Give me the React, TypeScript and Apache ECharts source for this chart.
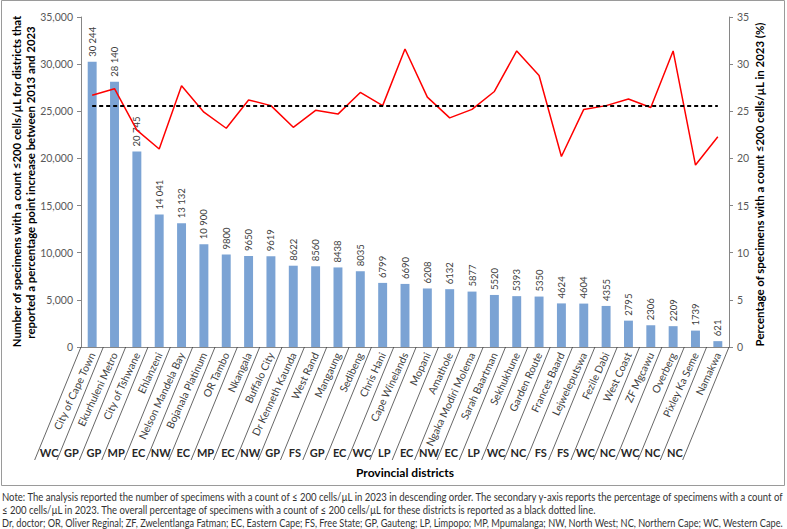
import React, { useEffect, useRef } from "react";
import * as echarts from "echarts";

// Districts in descending order of specimens with a count ≤200 cells/µL in 2023
const districts = [
  "City of Cape Town", "Ekurhuleni Metro", "City of Tshwane", "Ehlanzeni", "Nelson Mandela Bay",
  "Bojanala Platinum", "OR Tambo", "Nkangala", "Buffalo City", "Dr Kenneth Kaunda",
  "West Rand", "Mangaung", "Sedibeng", "Chris Hani", "Cape Winelands",
  "Mopani", "Amathole", "Ngaka Modiri Molema", "Sarah Baartman", "Sekhukhune",
  "Garden Route", "Frances Baard", "Lejweleputswa", "Fezile Dabi", "West Coast",
  "ZF Mgcawu", "Overberg", "Pixley Ka Seme", "Namakwa",
];

const provinces = [
  "WC", "GP", "GP", "MP", "EC", "NW", "EC", "MP", "EC", "NW",
  "GP", "FS", "GP", "EC", "WC", "LP", "EC", "NW", "EC", "LP",
  "WC", "NC", "FS", "FS", "WC", "NC", "WC", "NC", "NC",
];

const specimens = [
  30244, 28140, 20745, 14041, 13132, 10900, 9800, 9650, 9619, 8622,
  8560, 8438, 8035, 6799, 6690, 6208, 6132, 5877, 5520, 5393,
  5350, 4624, 4604, 4355, 2795, 2306, 2209, 1739, 621,
];

const percent2023 = [
  26.7, 27.4, 23.0, 21.0, 27.7, 24.9, 23.2, 26.2, 25.6, 23.3,
  25.1, 24.7, 27.0, 25.6, 31.6, 26.5, 24.3, 25.2, 27.1, 31.4,
  28.8, 20.2, 25.2, 25.6, 26.3, 25.4, 31.4, 19.3, 22.3,
];

const overallPercent = 25.6;

const countAxis = { min: 0, max: 35000, interval: 5000 };
const percentAxis = { min: 0, max: 35, interval: 5 };

const leftTitle = [
  "Number of specimens with a count ≤200 cells/µL for districts that",
  "reported a percentage point increase between 2013 and 2023",
];
const rightTitle = "Percentage of specimens with a count ≤200 cells/µL in 2023 (%)";
const xTitle = "Provincial districts";

const noteLines = [
  "Note: The analysis reported the number of specimens with a count of ≤ 200 cells/µL in 2023 in descending order. The secondary y-axis reports the percentage of specimens with a count of",
  "≤ 200 cells/µL in 2023. The overall percentage of specimens with a count of ≤ 200 cells/µL for these districts is reported as a black dotted line.",
  "Dr, doctor; OR, Oliver Reginal; ZF, Zwelentlanga Fatman; EC, Eastern Cape; FS, Free State; GP, Gauteng; LP, Limpopo; MP, Mpumalanga; NW, North West; NC, Northern Cape; WC, Western Cape.",
];

const FONT = "Lato, 'Noto Sans', sans-serif";
const W = 787;
const H = 529;

function formatCount(v: number): string {
  if (v >= 10000) {
    const s = String(v);
    return s.slice(0, s.length - 3) + " " + s.slice(s.length - 3);
  }
  return String(v);
}

function measure(text: string, font: string): number {
  const ctx = document.createElement("canvas").getContext("2d");
  if (!ctx) return text.length * 5;
  ctx.font = font;
  return ctx.measureText(text).width;
}

// Text squeezed horizontally by a factor (condensed look), optionally rotated to read upward
function squeezedText(
  text: string,
  font: string,
  x: number,
  y: number,
  scale: number,
  opts: { rotate?: boolean; align?: string; fill?: string } = {}
) {
  return {
    type: "text",
    x,
    y,
    rotation: opts.rotate ? Math.PI / 2 : 0,
    scaleX: scale,
    style: {
      text,
      font,
      fill: opts.fill || "#000",
      align: opts.align || "center",
      verticalAlign: "middle",
    },
    silent: true,
  };
}

export default function App() {
  const ref = useRef<HTMLDivElement>(null);

  useEffect(() => {
    if (!ref.current) return;
    const chart = echarts.init(ref.current, undefined, { renderer: "svg" });

    const noteFont = `11px ${FONT}`;
    const noteScale = 784 / measure(noteLines[0], noteFont);
    const lastScale = 783 / measure(noteLines[2], noteFont);
    const noteY = [497, 510, 523];
    const notes = noteLines.map((t, i) =>
      squeezedText(t, noteFont, 2, noteY[i], i === 2 ? lastScale : noteScale, {
        align: "left",
        fill: "#333",
      })
    );

    const titleFont = `bold 12px ${FONT}`;
    const titleScale = 333 / measure(leftTitle[0], titleFont);
    const titles = [
      squeezedText(leftTitle[0], titleFont, 16, 181.5, titleScale, { rotate: true }),
      squeezedText(leftTitle[1], titleFont, 30, 182.5, titleScale, { rotate: true }),
      squeezedText(rightTitle, titleFont, 759, 184.5, 325 / measure(rightTitle, titleFont), {
        rotate: true,
      }),
    ];

    const slope = 0.41; // horizontal run per pixel of drop for the slanted dividers
    const depth = 113;
    const provinceDrop = 105;
    const last = provinces.length - 1;

    const option: any = {
      animation: false,
      backgroundColor: "#fff",
      textStyle: { fontFamily: FONT },
      grid: { left: 81, right: 58, top: 17, bottom: 182, containLabel: false },
      xAxis: {
        type: "category",
        data: districts,
        axisLine: { show: true, lineStyle: { color: "#868686", width: 1 } },
        axisTick: { show: false },
        axisLabel: {
          interval: 0,
          rotate: 65,
          fontSize: 10.5,
          color: "#404040",
          fontFamily: FONT,
          margin: 6,
        },
      },
      yAxis: [
        {
          type: "value",
          ...countAxis,
          position: "left",
          axisLine: { show: true, lineStyle: { color: "#868686" } },
          axisTick: { show: true, length: 4, lineStyle: { color: "#868686" } },
          axisLabel: { fontSize: 10.5, color: "#595959", margin: 8, fontFamily: FONT },
          splitLine: { show: false },
        },
        {
          type: "value",
          ...percentAxis,
          position: "right",
          axisLine: { show: true, lineStyle: { color: "#868686" } },
          axisTick: { show: true, length: 4, lineStyle: { color: "#868686" } },
          axisLabel: { fontSize: 10.5, color: "#595959", margin: 8, fontFamily: FONT },
          splitLine: { show: false },
        },
      ],
      series: [
        {
          type: "bar",
          data: specimens,
          yAxisIndex: 0,
          barWidth: "40%",
          itemStyle: { color: "#7BA3D4" },
          label: {
            show: true,
            position: "top",
            rotate: 90,
            align: "left",
            verticalAlign: "middle",
            distance: 5,
            fontSize: 9.5,
            color: "#404040",
            fontFamily: FONT,
            formatter: (p: any) => formatCount(p.value),
          },
          z: 2,
        },
        {
          type: "line",
          data: percent2023,
          yAxisIndex: 1,
          symbol: "none",
          lineStyle: { color: "#FF0000", width: 1.5 },
          z: 4,
          markLine: {
            silent: true,
            symbol: "none",
            label: { show: false },
            lineStyle: { color: "#000", width: 2, type: [4, 3] },
            data: [
              [
                { coord: [0, overallPercent] },
                { coord: [districts.length - 1, overallPercent] },
              ],
            ],
          },
        },
        {
          type: "custom",
          xAxisIndex: 0,
          yAxisIndex: 0,
          silent: true,
          clip: false,
          z: 3,
          data: provinces.map((_, i) => [i, 0]),
          renderItem: (params: any, api: any) => {
            const i = api.value(0);
            const [cx, cy] = api.coord([i, 0]);
            const w = api.size([1, 0])[0];
            const children: any[] = [];
            const divider = (x: number) => ({
              type: "line",
              shape: { x1: x, y1: cy, x2: x - slope * depth, y2: cy + depth },
              style: { stroke: "#404040", lineWidth: 0.8 },
            });
            children.push(divider(cx - w / 2));
            if (params.dataIndex === last) children.push(divider(cx + w / 2));
            children.push({
              type: "text",
              x: cx - slope * provinceDrop,
              y: cy + provinceDrop,
              style: {
                text: provinces[i],
                font: `bold 11px ${FONT}`,
                fill: "#262626",
                align: "center",
                verticalAlign: "middle",
              },
            });
            return { type: "group", children };
          },
        },
      ],
      graphic: [
        {
          type: "rect",
          shape: { x: 1.5, y: 0.5, width: 783, height: 485 },
          style: { fill: "none", stroke: "#9a9a9a", lineWidth: 1 },
          silent: true,
          z: -1,
        },
        {
          type: "text",
          x: 405,
          y: 472,
          style: {
            text: xTitle,
            font: `bold 12px ${FONT}`,
            fill: "#000",
            align: "center",
            verticalAlign: "middle",
          },
          silent: true,
        },
        ...titles,
        ...notes,
      ],
    };

    chart.setOption(option);
    return () => chart.dispose();
  }, []);

  return (
    <div
      ref={ref}
      style={{ position: "fixed", left: 0, top: 0, width: W, height: H, background: "#fff" }}
    />
  );
}
